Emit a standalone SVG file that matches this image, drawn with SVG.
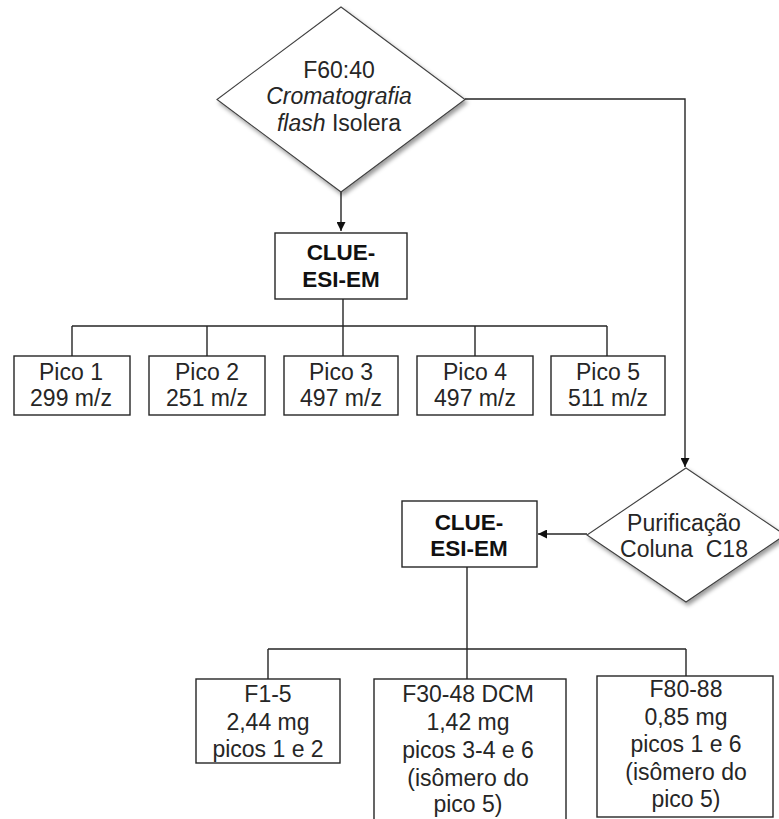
<svg xmlns="http://www.w3.org/2000/svg" width="779" height="819" viewBox="0 0 779 819">
<style>
.box{fill:#fff;stroke:#262626;stroke-width:1.4}
.dia{fill:#fff;stroke:#404040;stroke-width:1.1;filter:url(#sh)}
.ln{fill:none;stroke:#262626;stroke-width:1.4}
.t{font-family:"Liberation Sans",Arial,sans-serif;font-size:23px;fill:#262626;text-anchor:middle}
.b{font-weight:bold;font-size:22.5px;fill:#111}
</style>
<defs>
<filter id="sh" x="-10%" y="-10%" width="130%" height="130%">
<feDropShadow dx="2" dy="3" stdDeviation="2.2" flood-color="#000" flood-opacity="0.4"/>
</filter>
<marker id="ah" viewBox="0 0 10 10" refX="10" refY="5" markerWidth="9" markerHeight="9" markerUnits="userSpaceOnUse" orient="auto">
<path d="M0,0 L10,5 L0,10 z" fill="#111"/>
</marker>
</defs>
<g id="connectors">
<path class="ln" d="M341,192 V231" marker-end="url(#ah)"/>
<path class="ln" d="M465,99 H685 V467" marker-end="url(#ah)"/>
<path class="ln" d="M587,534 H538" marker-end="url(#ah)"/>
<path class="ln" d="M343,299 V326 M72,326 H607 M72,326 V356 M207,326 V356 M343,326 V356 M475,326 V356 M607,326 V356"/>
<path class="ln" d="M467,567 V649 M268,649 H686 M268,649 V679 M467,649 V679 M686,649 V676"/>
</g>
<g id="n-f6040">
<polygon class="dia" points="341,7 465,99.5 341,192 217,99.5"/>
<text class="t" x="339" y="77.5">F60:40</text>
<text class="t" x="339" y="104"><tspan font-style="italic">Cromatografia</tspan></text>
<text class="t" x="339" y="131"><tspan font-style="italic">flash</tspan> Isolera</text>
</g>
<g id="n-clue1">
<rect class="box" x="275" y="233" width="132" height="66"/>
<text class="t b" x="341" y="260">CLUE-</text>
<text class="t b" x="341" y="287">ESI-EM</text>
</g>
<g id="n-pico1">
<rect class="box" x="14" y="356" width="116" height="59"/>
<text class="t" x="71" y="380">Pico 1</text>
<text class="t" x="71" y="406">299 m/z</text>
</g>
<g id="n-pico2">
<rect class="box" x="149" y="356" width="116" height="59"/>
<text class="t" x="207" y="380">Pico 2</text>
<text class="t" x="207" y="406">251 m/z</text>
</g>
<g id="n-pico3">
<rect class="box" x="284" y="356" width="114" height="59"/>
<text class="t" x="341" y="380">Pico 3</text>
<text class="t" x="341" y="406">497 m/z</text>
</g>
<g id="n-pico4">
<rect class="box" x="417" y="356" width="116" height="59"/>
<text class="t" x="475" y="380">Pico 4</text>
<text class="t" x="475" y="406">497 m/z</text>
</g>
<g id="n-pico5">
<rect class="box" x="551" y="356" width="114" height="59"/>
<text class="t" x="608" y="380">Pico 5</text>
<text class="t" x="608" y="406">511 m/z</text>
</g>
<g id="n-purif">
<polygon class="dia" points="686,468 785,535 686,602 587,535"/>
<text class="t" x="684" y="530.5">Purificação</text>
<text class="t" x="684" y="557" style="white-space:pre">Coluna  C18</text>
</g>
<g id="n-clue2">
<rect class="box" x="402" y="501" width="135" height="66"/>
<text class="t b" x="469" y="530">CLUE-</text>
<text class="t b" x="469" y="556">ESI-EM</text>
</g>
<g id="n-f15">
<rect class="box" x="196" y="679" width="144" height="84"/>
<text class="t" x="268" y="702">F1-5</text>
<text class="t" x="268" y="730">2,44 mg</text>
<text class="t" x="268" y="757">picos 1 e 2</text>
</g>
<g id="n-f3048">
<rect class="box" x="374" y="679" width="192" height="150"/>
<text class="t" x="468" y="702">F30-48 DCM</text>
<text class="t" x="468" y="730">1,42 mg</text>
<text class="t" x="468" y="758">picos 3-4 e 6</text>
<text class="t" x="468" y="786">(isômero do</text>
<text class="t" x="468" y="812">pico 5)</text>
</g>
<g id="n-f8088">
<rect class="box" x="597" y="676" width="176" height="141"/>
<text class="t" x="686" y="697">F80-88</text>
<text class="t" x="686" y="725">0,85 mg</text>
<text class="t" x="686" y="752">picos 1 e 6</text>
<text class="t" x="686" y="780">(isômero do</text>
<text class="t" x="686" y="807">pico 5)</text>
</g>
</svg>
